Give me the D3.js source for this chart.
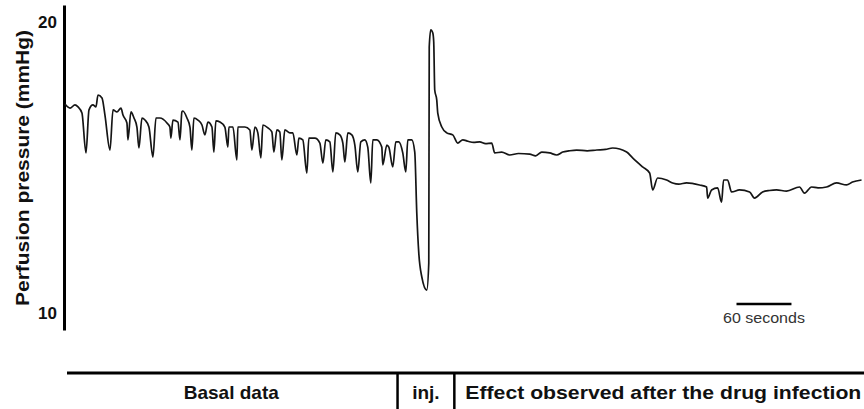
<!DOCTYPE html>
<html>
<head>
<meta charset="utf-8">
<script src="https://cdn.jsdelivr.net/npm/d3@7"></script>
<style>
  body { margin: 0; background: #fff; }
  svg { display: block; font-family: "Liberation Sans", Arial, sans-serif; }
</style>
</head>
<body>
<div id="chart"></div>
<script>
// time (s) and perfusion pressure (mmHg)
var timeSec = [
  0, 5.5, 10.9, 14.2, 18.5, 22.9, 26.2, 30.5, 33.8, 36.0, 40.4, 43.6, 49.1, 52.4, 56.7, 61.1, 63.3, 67.6, 68.7, 72.0,
  75.3, 78.5, 80.7, 84.0, 87.3, 91.6, 96.0, 99.3, 103.6, 111.3, 114.5, 115.6, 117.8, 123.3, 125.5, 127.6, 128.7, 133.1, 136.4, 138.5,
  140.7, 145.1, 149.5, 152.7, 156.0, 160.4, 162.5, 164.7, 169.1, 174.5, 177.8, 178.9, 183.3, 187.6, 188.7, 196.4, 201.8, 204.0, 207.3, 210.5,
  213.8, 216.0, 221.5, 225.8, 228.0, 231.3, 234.5, 236.7, 240.0, 245.5, 248.7, 253.1, 255.3, 259.6, 264.0, 266.2, 272.7, 278.2, 281.5, 284.7,
  289.1, 292.4, 295.6, 300.0, 303.3, 305.5, 308.7, 313.1, 316.4, 319.6, 322.9, 327.3, 330.5, 333.8, 336.0, 340.4, 345.8, 346.9, 351.3, 353.5,
  357.8, 361.1, 364.4, 368.7, 372.0, 374.2, 378.5, 381.8,
  384.0, 386.2, 389.5, 394.9, 397.1, 397.6, 399.3, 401.5, 402.5, 403.6, 405.8, 406.9, 411.3, 416.7, 423.3, 428.7, 434.2,
  440.0, 446.0, 452.7, 459.0, 465.8, 469.1, 476.7, 485.5, 495.0, 507.3, 513.8, 520.4, 529.1, 536.7, 543.3, 550.0, 558.5, 570.0, 580.4, 590.0, 597.8,
  613.1, 619.6, 630.5, 638.2, 641.5, 646.9, 656.7, 663.3, 670.0, 678.5, 692.7, 700.4, 701.5, 705.8, 712.4, 716.7, 718.9, 723.3, 727.6, 736.4,
  747.3, 752.7, 761.5, 769.0, 776.7, 787.6, 801.8, 807.3, 814.9, 822.0, 831.3, 842.2, 853.1, 859.6, 869.5
];
var pressure = [
  17.18, 17.04, 17.15, 17.08, 16.87, 15.50, 16.98, 17.15, 17.08, 17.49, 17.39, 16.80, 15.60, 16.98, 16.91, 17.04, 16.80, 16.53, 15.95, 16.91,
  16.70, 16.39, 15.67, 16.70, 16.63, 16.39, 15.36, 16.70, 16.70, 16.53, 16.39, 16.01, 16.63, 16.56, 15.95, 16.91, 16.94, 16.70, 16.39, 15.60,
  16.70, 16.63, 16.46, 16.12, 16.56, 16.39, 15.53, 16.60, 16.56, 16.39, 15.70, 16.39, 16.39, 15.26, 16.39, 16.39, 16.29, 15.60, 16.39, 16.19,
  15.33, 16.46, 16.36, 16.22, 15.53, 16.29, 16.22, 15.26, 16.29, 16.19, 16.19, 15.43, 16.01, 15.95, 14.81, 16.01, 16.01, 15.84, 15.15, 15.95,
  15.88, 14.85, 16.19, 16.12, 15.84, 15.19, 16.19, 16.12, 15.77, 14.85, 15.88, 15.95, 15.70, 14.47, 15.95, 15.95, 15.70, 15.09, 15.77, 15.70,
  15.02, 15.88, 15.88, 15.50, 14.85, 15.95, 15.95, 15.53,
  13.44, 12.06, 11.24, 10.79, 11.72, 19.14, 19.73, 19.62, 19.31, 17.66, 17.32, 16.87, 16.39, 16.19, 16.12, 15.84, 15.95,
  15.90, 15.86, 15.88, 15.82, 15.84, 15.50, 15.53, 15.43, 15.48, 15.46, 15.40, 15.53, 15.50, 15.43, 15.53, 15.57, 15.60, 15.57, 15.60, 15.62, 15.67,
  15.53, 15.33, 15.02, 14.81, 14.23, 14.64, 14.57, 14.47, 14.43, 14.47, 14.40, 14.33, 13.95, 14.23, 14.30, 13.81, 14.57, 14.57, 14.16, 14.23,
  14.16, 13.95, 14.16, 14.21, 14.23, 14.19, 14.33, 14.12, 14.33, 14.30, 14.33, 14.47, 14.40, 14.50, 14.57
];
var yTickValues = [10, 20];
var yLabel = "Perfusion pressure (mmHg)";
var scaleBarSec = 60;
var scaleBarLabel = "60 seconds";
var phaseLabels = ["Basal data", "inj.", "Effect observed after the drug infection"];
var phaseEdges = [0, 363, 425, 872];

var width = 864, height = 409;
var svg = d3.select("#chart").append("svg")
  .attr("width", width).attr("height", height);

var x = d3.scaleLinear().domain([0, 870]).range([65, 862]);
var y = d3.scaleLinear().domain([9.42, 20.58]).range([330, 5]);

// y axis
var yAxis = svg.append("g")
  .attr("transform", "translate(64,0)")
  .call(d3.axisLeft(y).tickValues(yTickValues).tickSize(0).tickPadding(7).tickFormat(d3.format("d")));
yAxis.select(".domain").attr("stroke", "#000").attr("stroke-width", 3);
yAxis.selectAll("text")
  .attr("font-size", 17).attr("font-weight", "bold").attr("fill", "#111")
  .attr("font-family", "Liberation Sans, Arial, sans-serif");

svg.append("text")
  .attr("transform", "translate(22,168) rotate(-90)")
  .attr("text-anchor", "middle")
  .attr("dominant-baseline", "central")
  .attr("font-size", 19).attr("font-weight", "bold").attr("fill", "#111")
  .attr("textLength", 276).attr("lengthAdjust", "spacingAndGlyphs")
  .text(yLabel);

// trace
var pts = timeSec.map(function (t, i) { return [t, pressure[i]]; });
var line = d3.line()
  .curve(d3.curveMonotoneX)
  .x(function (d) { return x(d[0]); })
  .y(function (d) { return y(d[1]); });
svg.append("path")
  .datum(pts)
  .attr("fill", "none")
  .attr("stroke", "#151515")
  .attr("stroke-width", 1.7)
  .attr("stroke-linejoin", "round")
  .attr("d", line);

// scale bar
var sb0 = 733;
svg.append("line")
  .attr("x1", x(sb0)).attr("x2", x(sb0 + scaleBarSec))
  .attr("y1", 304).attr("y2", 304)
  .attr("stroke", "#000").attr("stroke-width", 2.5);
svg.append("text")
  .attr("x", (x(sb0) + x(sb0 + scaleBarSec)) / 2).attr("y", 323)
  .attr("text-anchor", "middle")
  .attr("font-size", 14).attr("fill", "#333")
  .attr("textLength", 82).attr("lengthAdjust", "spacingAndGlyphs")
  .text(scaleBarLabel);

// phase bar at bottom
var barY = 373;
svg.append("line")
  .attr("x1", 67).attr("x2", width)
  .attr("y1", barY).attr("y2", barY)
  .attr("stroke", "#000").attr("stroke-width", 3);
svg.selectAll(".divider")
  .data(phaseEdges.slice(1, 3))
  .enter().append("line")
  .attr("class", "divider")
  .attr("x1", function (d) { return x(d); }).attr("x2", function (d) { return x(d); })
  .attr("y1", barY).attr("y2", height)
  .attr("stroke", "#000").attr("stroke-width", 2.5);

phaseLabels.forEach(function (lab, i) {
  var x0 = x(phaseEdges[i]), x1 = Math.min(x(phaseEdges[i + 1]), width);
  var t = svg.append("text")
    .attr("y", 399)
    .attr("font-size", 19).attr("font-weight", "bold").attr("fill", "#111")
    .text(lab);
  if (i === 2) {
    t.attr("x", x0 + 11).attr("textLength", 396).attr("lengthAdjust", "spacingAndGlyphs");
  } else {
    t.attr("x", (x0 + x1) / 2).attr("text-anchor", "middle");
  }
});
</script>
</body>
</html>
